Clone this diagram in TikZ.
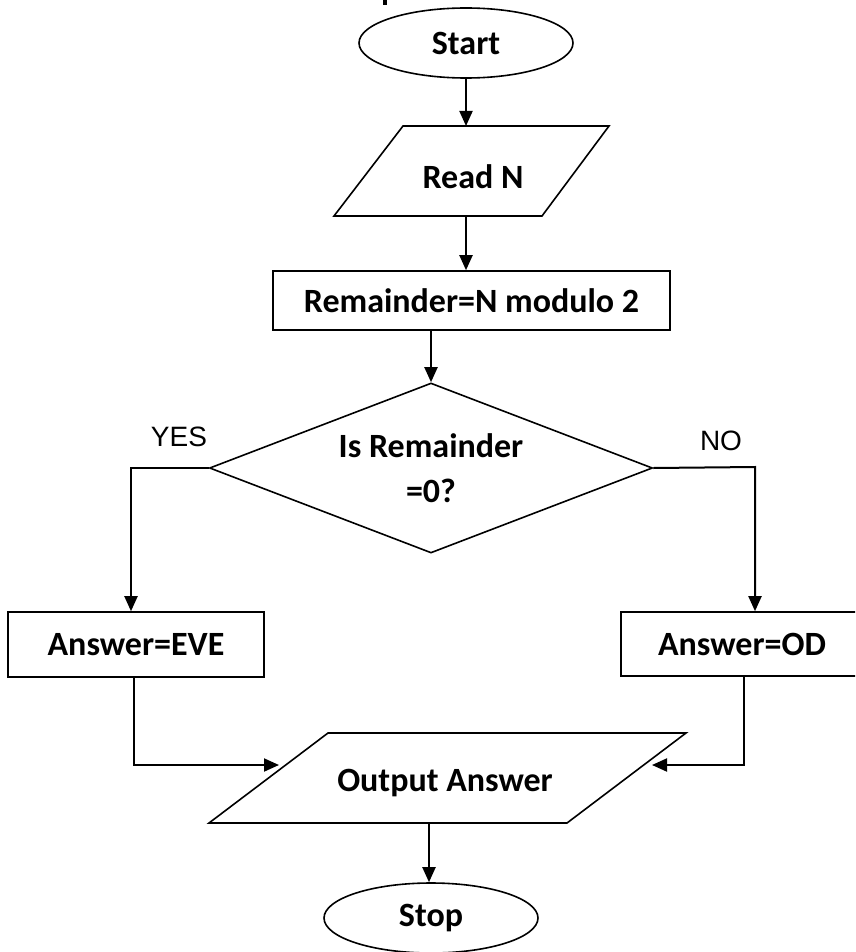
\documentclass[tikz,border=0pt]{standalone}
\usepackage{fontspec}
\setmainfont{Carlito}
\newfontfamily\labelfont{Liberation Sans}
\usetikzlibrary{shapes.geometric,arrows.meta}
\begin{document}
\begin{tikzpicture}[x=1pt,y=-1pt,
  shapeline/.style={draw=black,line width=1.6pt},
  txt/.style={font=\fontsize{34}{38}\selectfont\bfseries,align=center,inner sep=0pt},
  term/.style={shapeline,ellipse,minimum width=214pt,minimum height=70pt,inner sep=0pt,font=\fontsize{34}{38}\selectfont\bfseries},
  procbox/.style={shapeline,rectangle,inner sep=0pt,font=\fontsize{34}{38}\selectfont\bfseries},
  decbox/.style={shapeline,diamond,minimum width=443pt,minimum height=170pt,inner sep=0pt,aspect=2.6,align=center,font=\fontsize{34}{45}\selectfont\bfseries},
  conn/.style={draw=black,line width=2pt},
  arr/.style={conn,-{Triangle[length=15pt,width=13pt]}},
  yn/.style={font=\labelfont\fontsize{28}{30}\selectfont,inner sep=0pt}]
\useasboundingbox (0,0) rectangle (855,952);
\fill[white] (0,0) rectangle (855,952);
\clip (0,0) rectangle (855,952);
% fragment of cut-off title
\draw[line width=3.5pt] (385,0) -- (385,5);
% Start
\node[term] (start) at (466,43) {Start};
% Read N
\coordinate (rnTL) at (403,126);
\coordinate (rnTR) at (609,126);
\coordinate (rnBR) at (542,216);
\coordinate (rnBL) at (334,216);
\draw[shapeline] (rnTL) -- (rnTR) -- (rnBR) -- (rnBL) -- cycle;
\node[txt] (readn) at (473,177) {Read N};
\coordinate (rnTop) at (466,126);
\coordinate (rnBot) at (466,216);
% Remainder box
\node[procbox,minimum width=397pt,minimum height=59pt] (rem) at (471.5,300.5) {Remainder=N modulo 2};
% Decision
\node[decbox] (dec) at (431,468) {Is Remainder\\=0?};
% Answer boxes
\node[procbox,minimum width=256pt,minimum height=65pt] (eve) at (136,644.5) {Answer=EVE};
\node[procbox,minimum width=242pt,minimum height=64pt] (od) at (742,644) {Answer=OD};
% Output
\coordinate (oTL) at (328,733);
\coordinate (oTR) at (686,733);
\coordinate (oBR) at (567,823);
\coordinate (oBL) at (209,823);
\draw[shapeline] (oTL) -- (oTR) -- (oBR) -- (oBL) -- cycle;
\node[txt] (outp) at (445,783) {Output Answer};
\coordinate (oBot) at (429,823);
% Stop
\node[term] (stop) at (431,918) {Stop};
% labels
\node[yn] (yes) at (179,437) {YES};
\node[yn] (no) at (721,441) {NO};
% connectors
\draw[arr] (start.south) -- (rnTop);
\draw[arr] (rnBot) -- (rnBot |- rem.north);
\draw[arr] (dec.north |- rem.south) -- (dec.north);
\coordinate (yesTurn) at (131,468);
\draw[arr] (dec.west) -- (yesTurn) -- (yesTurn |- eve.north);
\coordinate (noTurn) at (755,467);
\draw[arr] (dec.east) -- (noTurn) -- (noTurn |- od.north);
\coordinate (eveTurn) at (134,765);
\coordinate (eveIn) at (279,765);
\draw[arr] (eveTurn |- eve.south) -- (eveTurn) -- (eveIn);
\coordinate (odTurn) at (744,765);
\coordinate (odIn) at (652,765);
\draw[arr] (odTurn |- od.south) -- (odTurn) -- (odIn);
\draw[arr] (oBot) -- (oBot |- stop.north);
\end{tikzpicture}
\end{document}
